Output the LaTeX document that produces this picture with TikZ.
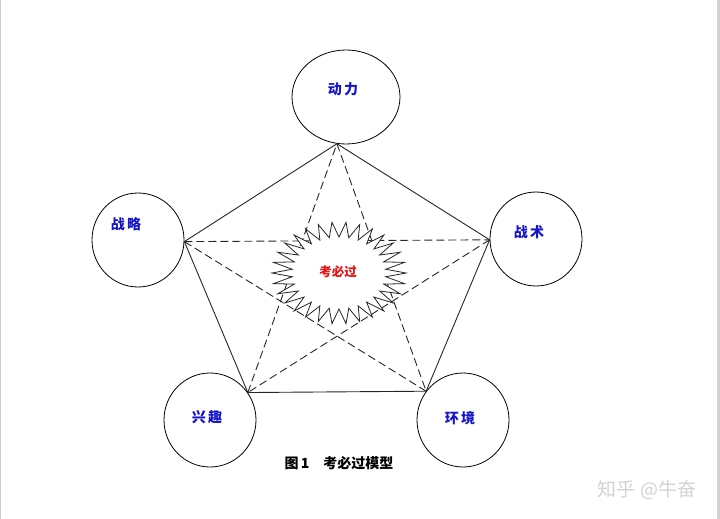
\documentclass[tikz,border=0pt]{standalone}
\usepackage{fontspec}
\newfontfamily\cjk{Noto Sans CJK SC}
\usetikzlibrary{shapes.geometric}
\definecolor{wordblue}{RGB}{20,20,200}
\definecolor{wordred}{RGB}{230,20,20}

\begin{document}
\begin{tikzpicture}[x=1pt,y=-1pt]
        \tikzset{ring/.style = {shape=ellipse,draw,line width=0.8pt,minimum width=92pt,minimum height=94pt,inner sep=0pt}}
        \tikzset{word/.style = {font=\cjk\bfseries\fontsize{14}{16}\selectfont,text=wordblue,inner sep=1pt}}
        \tikzset{edge/.style = {line width=0.9pt,draw=black!85}}
        \tikzset{hidden/.style = {edge,dash pattern=on 8pt off 4pt}}

        \useasboundingbox (0,0) rectangle (720,519);

        % frame
        \draw[gray!40] (0.5,0) -- (0.5,519);
        \fill[gray!35] (716.5,0) rectangle (720,519);

        % circles
        \node[ring,minimum width=108pt] (dongli) at (346,97) {};
        \node[ring] (zhanshu) at (536,239) {};
        \node[ring] (huanjing) at (463,420) {};
        \node[ring] (xingqu) at (210,420) {};
        \node[ring] (zhanlue) at (138,240) {};

        % vertices
        \coordinate (v0) at (dongli.259);
        \coordinate (v1) at (zhanshu.181);
        \coordinate (v2) at (huanjing.142);
        \coordinate (v3) at (xingqu.36);
        \coordinate (v4) at (zhanlue.358);

        % edges
        \foreach \i in {0,...,4}
            \pgfmathtruncatemacro\j{mod(\i+1,5)}
            \draw[edge] (v\i) -- (v\j);

        \foreach \i in {0,...,4}
            \pgfmathtruncatemacro\j{mod(\i+2,5)}
            \draw[hidden] (v\i) -- (v\j);

        % burst
        \begin{scope}[shift={(339,273)}]
            \filldraw[fill=white,draw=black!85,line width=0.8pt] (0:67 and 51)
                \foreach \k in {0,...,29} { -- ({\k*12+6}:47 and 36) -- ({\k*12+12}:67 and 51) } -- cycle;
        \end{scope}

        % labels
        \node[word] (t-dongli) at (343,89) {动\,力};
        \node[word] (t-zhanshu) at (529,232) {战\,术};
        \node[word] (t-huanjing) at (460,418) {环\,境};
        \node[word] (t-xingqu) at (207,417) {兴\,趣};
        \node[word] (t-zhanlue) at (126,224) {战\,略};
        \node[word,text=wordred,font=\cjk\bfseries\fontsize{12.5}{14}\selectfont] (t-kaobiguo) at (338,272) {考必过};

        \node[font=\cjk\bfseries\fontsize{14}{16}\selectfont] (caption) at (339,463) {图\,1\quad 考必过模型};
        \node[text=gray!35,font=\cjk\fontsize{19}{21}\selectfont] (mark) at (647,490) {知乎 @牛奋};

    \end{tikzpicture}
\end{document}
